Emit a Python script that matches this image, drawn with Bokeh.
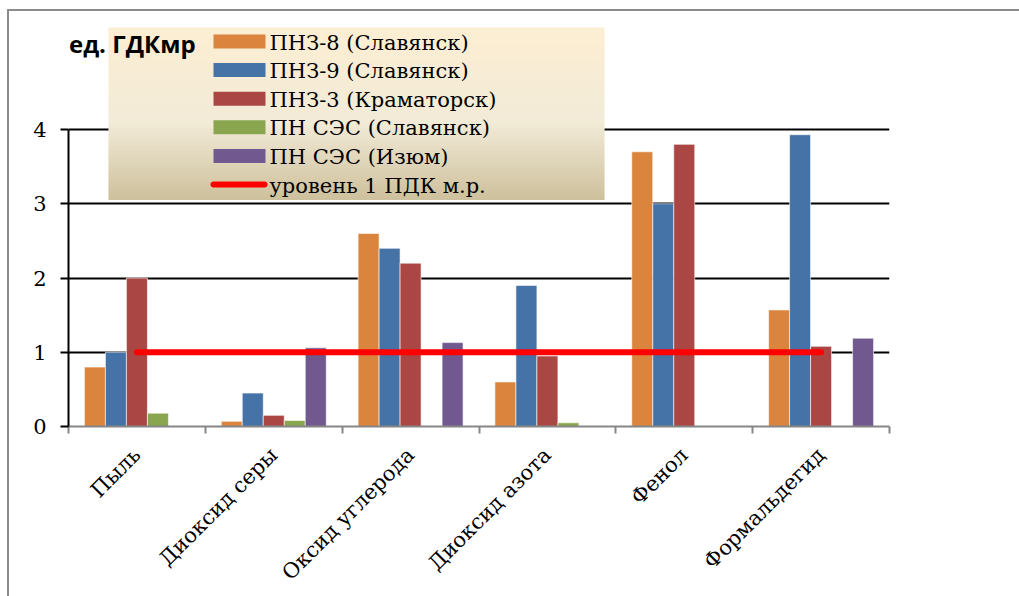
import math

from bokeh.core.properties import value
from bokeh.embed import file_html
from bokeh.models import ColumnDataSource, FixedTicker, Label, Range1d
from bokeh.plotting import figure
from bokeh.resources import INLINE
from bokeh.transform import dodge

# ---- data -------------------------------------------------------------
categories = ["Пыль", "Диоксид серы", "Оксид углерода", "Диоксид азота", "Фенол", "Формальдегид"]
pnz8_slavyansk = [0.80, 0.07, 2.60, 0.60, 3.70, 1.57]
pnz9_slavyansk = [1.00, 0.45, 2.40, 1.90, 3.00, 3.93]
pnz3_kramatorsk = [2.00, 0.15, 2.20, 0.95, 3.80, 1.08]
pnses_slavyansk = [0.18, 0.08, 0.00, 0.05, 0.00, 0.00]
pnses_izyum = [0.00, 1.06, 1.13, 0.00, 0.00, 1.19]
pdk_level = 1.0

series_names = [
    "ПНЗ-8 (Славянск)",
    "ПНЗ-9 (Славянск)",
    "ПНЗ-3 (Краматорск)",
    "ПН СЭС (Славянск)",
    "ПН СЭС (Изюм)",
]
pdk_name = "уровень 1 ПДК м.р."
y_ticks = [0, 1, 2, 3, 4]
y_title = "ед. ГДКмр"

series_colors = ["#DB843D", "#4572A7", "#AA4643", "#89A54E", "#71588F"]
pdk_color = "#FF0000"

# ---- geometry (pixels) -------------------------------------------------
W, H = 1019, 596
FRAME_L, FRAME_R, FRAME_B = 68, 889, 426
PX_PER_UNIT = 74.25
PX_PER_CAT = (FRAME_R - FRAME_L) / len(categories)


def dx(px):
    return (px - FRAME_L) / PX_PER_CAT


def dy(py):
    return (FRAME_B - py) / PX_PER_UNIT


SERIF = "DejaVu Serif"
BORDER = "#8C8C8C"

# the chart area border (left and top edges) is painted by the page element
# behind a transparent canvas
border_css = (
    f"linear-gradient({BORDER}, {BORDER}) 7px 9px / 2px 100% no-repeat, "
    f"linear-gradient({BORDER}, {BORDER}) 7px 9px / 100% 2px no-repeat, "
    "#ffffff"
)

p = figure(
    width=W,
    height=H,
    x_range=Range1d(0, len(categories)),
    y_range=Range1d(0, FRAME_B / PX_PER_UNIT),
    output_backend="svg",
    toolbar_location=None,
    min_border_left=FRAME_L,
    min_border_right=W - FRAME_R,
    min_border_top=0,
    min_border_bottom=H - FRAME_B,
    background_fill_color=None,
    border_fill_color=None,
    styles={"background": border_css},
)
p.outline_line_color = None

positions = [i + 0.5 for i in range(len(categories))]
source = ColumnDataSource(
    dict(
        pos=positions,
        s0=pnz8_slavyansk,
        s1=pnz9_slavyansk,
        s2=pnz3_kramatorsk,
        s3=pnses_slavyansk,
        s4=pnses_izyum,
        pdk=[pdk_level] * len(categories),
    )
)

bar_w = 21 / PX_PER_CAT
for i, col in enumerate(["s0", "s1", "s2", "s3", "s4"]):
    p.vbar(
        x=dodge("pos", (i - 2) * bar_w, range=p.x_range),
        top=col,
        width=bar_w,
        source=source,
        fill_color=series_colors[i],
        line_color="white",
        line_alpha=0.6,
        line_width=1,
    )

p.line(x="pos", y="pdk", source=source, line_color=pdk_color, line_width=6, line_cap="round")

# ---- axes --------------------------------------------------------------
yax = p.yaxis[0]
yax.ticker = FixedTicker(ticks=y_ticks)
yax.bounds = (0, 4)
yax.axis_line_color = "black"
yax.axis_line_width = 2
yax.major_tick_line_color = "black"
yax.major_tick_line_width = 2
yax.major_tick_out = 8
yax.major_tick_in = 0
yax.minor_tick_line_color = None
yax.major_label_text_font = SERIF
yax.major_label_text_font_size = "21px"
yax.major_label_text_color = "black"
yax.major_label_standoff = 14

xax = p.xaxis[0]
xax.ticker = FixedTicker(ticks=positions, minor_ticks=list(range(len(categories) + 1)))
xax.major_label_overrides = {pos: name for pos, name in zip(positions, categories)}
xax.axis_line_color = "#868686"
xax.axis_line_width = 2
xax.major_tick_line_color = None
xax.minor_tick_line_color = "#868686"
xax.minor_tick_line_width = 2
xax.minor_tick_out = 7
xax.minor_tick_in = 0
xax.major_label_orientation = math.pi / 4
xax.major_label_text_font = SERIF
xax.major_label_text_font_size = "21px"
xax.major_label_text_color = "black"
xax.major_label_standoff = 18

p.xgrid.grid_line_color = None
p.ygrid.ticker = FixedTicker(ticks=[t for t in y_ticks if t > 0])
p.ygrid.grid_line_color = "black"
p.ygrid.grid_line_width = 2

# ---- legend with a vertical gradient backdrop -------------------------
LEG_L, LEG_R, LEG_T, LEG_B = 108, 604, 27, 199
stops = [(0.0, (252, 238, 210)), (0.55, (242, 235, 215)), (1.0, (206, 192, 156))]


def grad(t):
    for (t0, c0), (t1, c1) in zip(stops[:-1], stops[1:]):
        if t0 <= t <= t1:
            f = (t - t0) / (t1 - t0)
            return "#%02x%02x%02x" % tuple(round(a + (b - a) * f) for a, b in zip(c0, c1))
    return "#%02x%02x%02x" % stops[-1][1]


n_strips = 86
step = (LEG_B - LEG_T) / n_strips
p.quad(
    left=[dx(LEG_L)] * n_strips,
    right=[dx(LEG_R)] * n_strips,
    top=[dy(LEG_T + k * step) for k in range(n_strips)],
    bottom=[dy(LEG_T + (k + 1) * step + 0.6) for k in range(n_strips)],
    fill_color=[grad((k + 0.5) / n_strips) for k in range(n_strips)],
    line_color=None,
)

row_y = [41 + 28.6 * k for k in range(6)]
p.quad(
    left=[dx(213)] * 5,
    right=[dx(265)] * 5,
    top=[dy(cy - 7) for cy in row_y[:5]],
    bottom=[dy(cy + 7) for cy in row_y[:5]],
    fill_color=series_colors,
    line_color=None,
)
p.line(
    x=[dx(213), dx(264)],
    y=[dy(row_y[5])] * 2,
    line_color=pdk_color,
    line_width=6,
    line_cap="round",
)
p.text(
    x=[dx(269)] * 6,
    y=[dy(cy + 1) for cy in row_y],
    text=series_names + [pdk_name],
    text_font=value(SERIF),
    text_font_size="21px",
    text_color="black",
    text_baseline="middle",
    text_align="left",
)

p.add_layout(
    Label(
        x=dx(68.5),
        y=dy(43),
        text=y_title,
        text_font="Open Sans",
        text_font_style="bold",
        text_font_size="24px",
        text_color="black",
        text_baseline="middle",
        text_align="left",
    )
)

open("out.html", "w").write(file_html(p, INLINE))
